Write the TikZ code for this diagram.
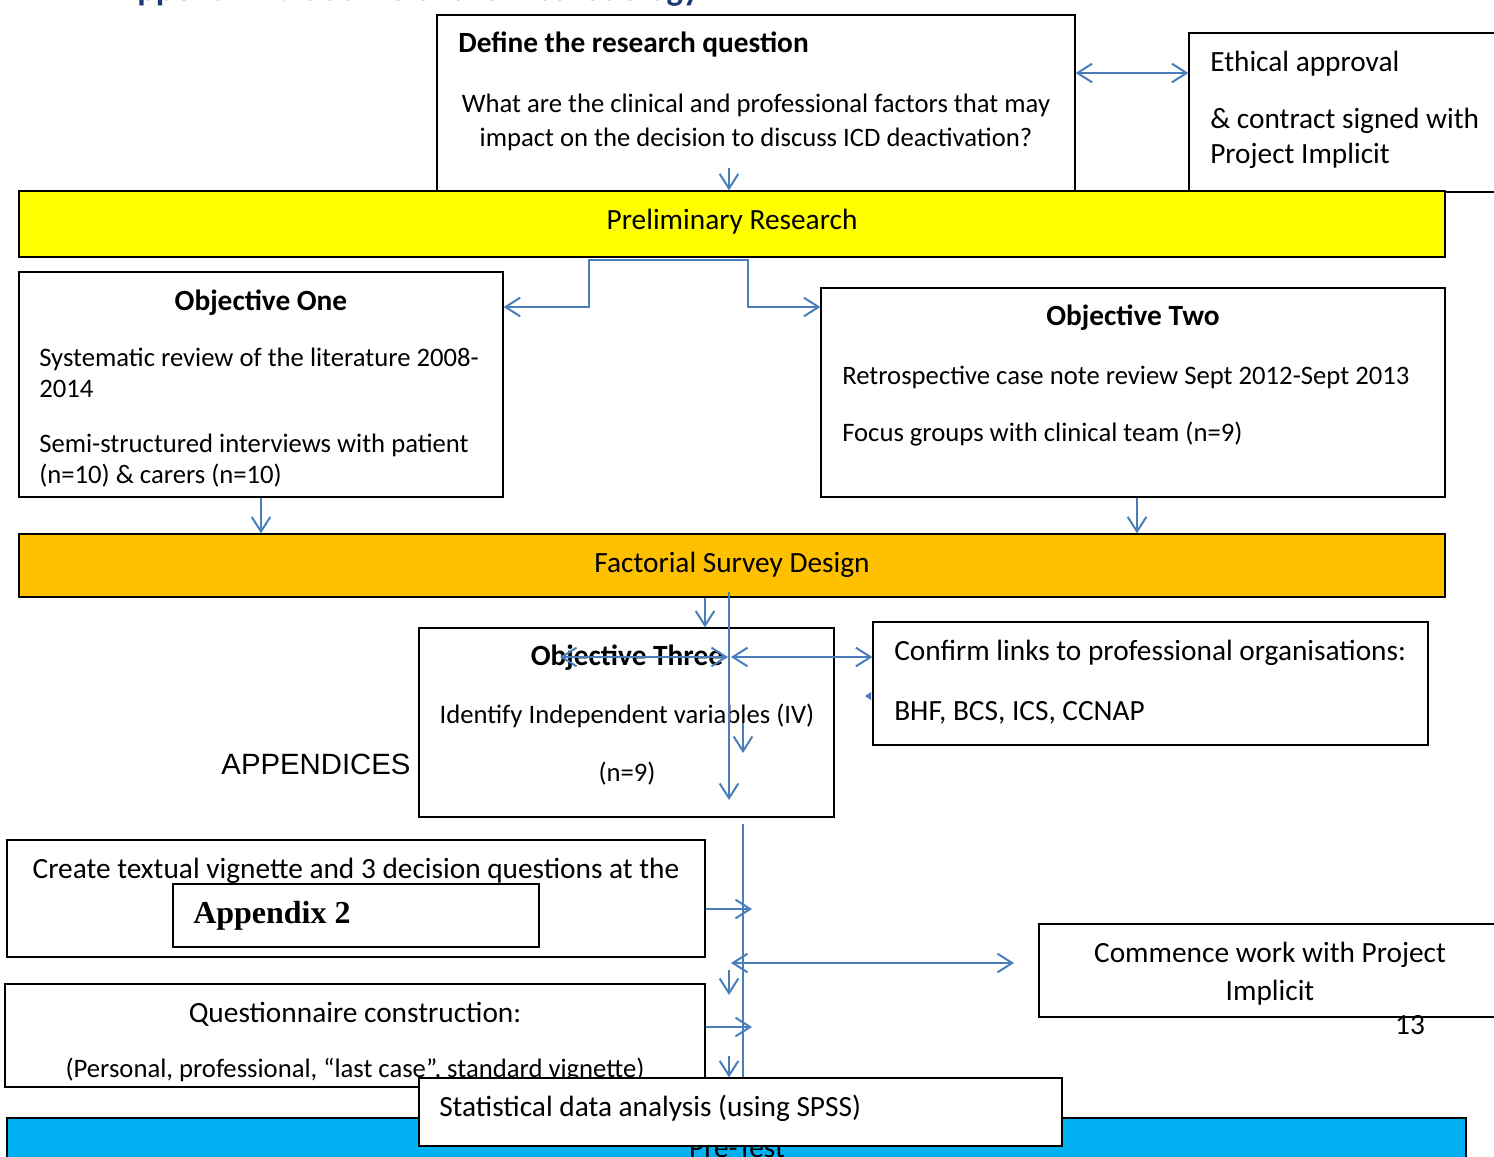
\documentclass[tikz,border=0pt]{standalone}
\usepackage{fontspec}
\setmainfont{Carlito}
\newfontfamily\timesf{Liberation Serif}
\newfontfamily\arialf{Liberation Sans}
\usetikzlibrary{arrows.meta,fit,calc}
\definecolor{lineblue}{HTML}{4A7EBB}
\definecolor{titleblue}{HTML}{1F3A78}
\definecolor{barYellow}{HTML}{FFFF00}
\definecolor{barOrange}{HTML}{FFC000}
\definecolor{barCyan}{HTML}{00B0F0}
\tikzset{
  box/.style={draw=black, line width=0.9pt, inner sep=0pt},
  txt/.style={inner sep=0pt, yshift=-5pt, font=\fontsize{22}{26}\selectfont},
  txs/.style={inner sep=0pt, yshift=-4.6pt, font=\fontsize{20}{24}\selectfont},
  hd/.style={inner sep=0pt, yshift=-5pt, font=\fontsize{22}{26}\selectfont\bfseries},
  ln/.style={draw=lineblue, line width=1.5pt},
  arr/.style={ln, -{Straight Barb[length=11pt,width=14pt]}},
  darr/.style={ln, {Straight Barb[length=11pt,width=14pt]}-{Straight Barb[length=11pt,width=14pt]}}
}
\begin{document}
\begin{tikzpicture}[x=0.75pt,y=-0.75pt]
\useasboundingbox (0,0) rectangle (1494,1156);
% title (cut off by page top, as in the reference)
\node[anchor=base west, inner sep=0pt, text=titleblue, font=\fontsize{26}{30}\selectfont\bfseries] (title) at (116,1) {Appendix 1: Outline of the methodology};
% boxes
\node[box, fit={(437,15)(1075,191)}] (define) {};
\node[box, fit={(1189,33)(1510,192)}] (ethical) {};
\node[box, fill=barYellow, fit={(19,191)(1445,257)}] (prelim) {};
\node[box, fit={(19,272)(503,497)}] (obj1) {};
\node[box, fit={(821,288)(1445,497)}] (obj2) {};
\node[box, fill=barOrange, fit={(19,534)(1445,597)}] (factorial) {};
\node[box, fit={(419,628)(834,817)}] (obj3) {};
\node[box, fit={(873,622)(1428,745)}] (confirm) {};
\node[box, fit={(7,840)(705,957)}] (create) {};
\node[box, fit={(173,884)(539,947)}] (app2) {};
\node[box, fit={(1039,924)(1510,1017)}] (commence) {};
\node[box, fit={(5,984)(705,1087)}] (quest) {};
\node[box, fill=barCyan, fit={(7,1118)(1466,1180)}] (pretest) {};

% texts
\node[hd, anchor=mid west] (tdef) at (458,43) {Define the research question};
\node[txs, anchor=mid] (tq1) at (756,103) {What are the clinical and professional factors that may};
\node[txs, anchor=mid] (tq2) at (756,137) {impact on the decision to discuss ICD deactivation?};
\node[txt, anchor=mid west] (te1) at (1210,62) {Ethical approval};
\node[txt, anchor=mid west] (te2) at (1210,119) {\& contract signed with};
\node[txt, anchor=mid west] (te3) at (1210,154) {Project Implicit};
\node[txt, anchor=mid] (tpre) at (732,220) {Preliminary Research};
\node[hd, anchor=mid] (to1) at (261,301) {Objective One};
\node[txs, anchor=mid west] (to1a) at (39,357) {Systematic review of the literature 2008-};
\node[txs, anchor=mid west] (to1b) at (39,388) {2014};
\node[txs, anchor=mid west] (to1c) at (39,443) {Semi-structured interviews with patient};
\node[txs, anchor=mid west] (to1d) at (39,474) {(n=10) \& carers (n=10)};
\node[hd, anchor=mid] (to2) at (1133,316) {Objective Two};
\node[txs, anchor=mid west] (to2a) at (842,375) {Retrospective case note review Sept 2012-Sept 2013};
\node[txs, anchor=mid west] (to2b) at (842,432) {Focus groups with clinical team (n=9)};
\node[txt, anchor=mid] (tfac) at (732,563) {Factorial Survey Design};
\node[hd, anchor=mid] (to3) at (627,656) {Objective Three};
\node[txs, anchor=mid] (to3a) at (627,714) {Identify Independent variables (IV)};
\node[txs, anchor=mid] (to3b) at (627,772) {(n=9)};
\node[txt, anchor=mid west] (tc1) at (894,651) {Confirm links to professional organisations:};
\node[txt, anchor=mid west] (tc2) at (894,711) {BHF, BCS, ICS, CCNAP};
\node[inner sep=0pt, anchor=mid, yshift=-4pt, font=\fontsize{22}{26}\selectfont\arialf] (tapp) at (316,766) {APPENDICES};
\node[txt, anchor=mid] (tcr) at (356,869) {Create textual vignette and 3 decision questions at the};
\node[inner sep=0pt, anchor=mid west, yshift=-4.6pt, font=\fontsize{24}{28}\selectfont\timesf\bfseries] (tapp2) at (193,914) {Appendix 2};
\node[txt, anchor=mid] (tcm1) at (1270,953) {Commence work with Project};
\node[txt, anchor=mid] (tcm2) at (1270,991) {Implicit};
\node[txt, anchor=mid] (tpage) at (1410,1025) {13};
\node[txt, anchor=mid] (tqu1) at (355,1013) {Questionnaire construction:};
\node[txs, anchor=mid] (tqu2) at (355,1068) {(Personal, professional, “last case”, standard vignette)};
\node[txt, anchor=mid] (tpt) at (737,1148) {Pre-Test};

% connectors
\coordinate (q1) at (729,168);
\draw[darr] (define.east |- 0,73) -- (ethical.west |- 0,73);
\draw[arr] (q1) -- (prelim.north -| q1);
\draw[darr] (obj1.east |- 0,307) -- (589,307) -- (589,260) -- (748,260) -- (748,307) -- (obj2.west |- 0,307);
\draw[arr] (obj1.south) -- (factorial.north -| obj1.south);
\draw[arr] (obj2.south -| 1137,0) -- (factorial.north -| 1137,0);
\draw[arr] (factorial.south -| 705,0) -- (obj3.north -| 705,0);
\coordinate (vtop) at (729,592);
\coordinate (vend) at (729,800);
\draw[arr] (vtop) -- (vend);
\coordinate (hl) at (560,657);
\coordinate (hm1) at (728,657);
\coordinate (hm2) at (731,657);
\draw[darr] (hl) -- (hm1);
\draw[darr] (hm2) -- (confirm.west |- hm2);
\fill[lineblue] (865,696) -- (871,692) -- (871,700) -- cycle;
\coordinate (s1a) at (743,723);
\coordinate (s1b) at (743,753);
\draw[arr] (s1a) -- (s1b);
\coordinate (v2top) at (743,824);
\coordinate (a1) at (752,909);
\draw[arr] (create.east |- a1) -- (a1);
\coordinate (d1a) at (731,963);
\coordinate (d1b) at (1014,963);
\draw[darr] (d1a) -- (d1b);
\coordinate (s2a) at (729,970);
\coordinate (s2b) at (729,995);
\draw[arr] (s2a) -- (s2b);
\coordinate (a2) at (752,1027);
\draw[arr] (quest.east |- a2) -- (a2);

% statistics box on top
\node[box, fill=white, fit={(419,1078)(1062,1146)}] (stats) {};
\node[txt, anchor=mid west] (tst) at (439,1107) {Statistical data analysis (using SPSS)};
\draw[ln] (v2top) -- (stats.north -| v2top);
\coordinate (s3a) at (729,1056);
\draw[arr] (s3a) -- (stats.north -| s3a);
\end{tikzpicture}
\end{document}
